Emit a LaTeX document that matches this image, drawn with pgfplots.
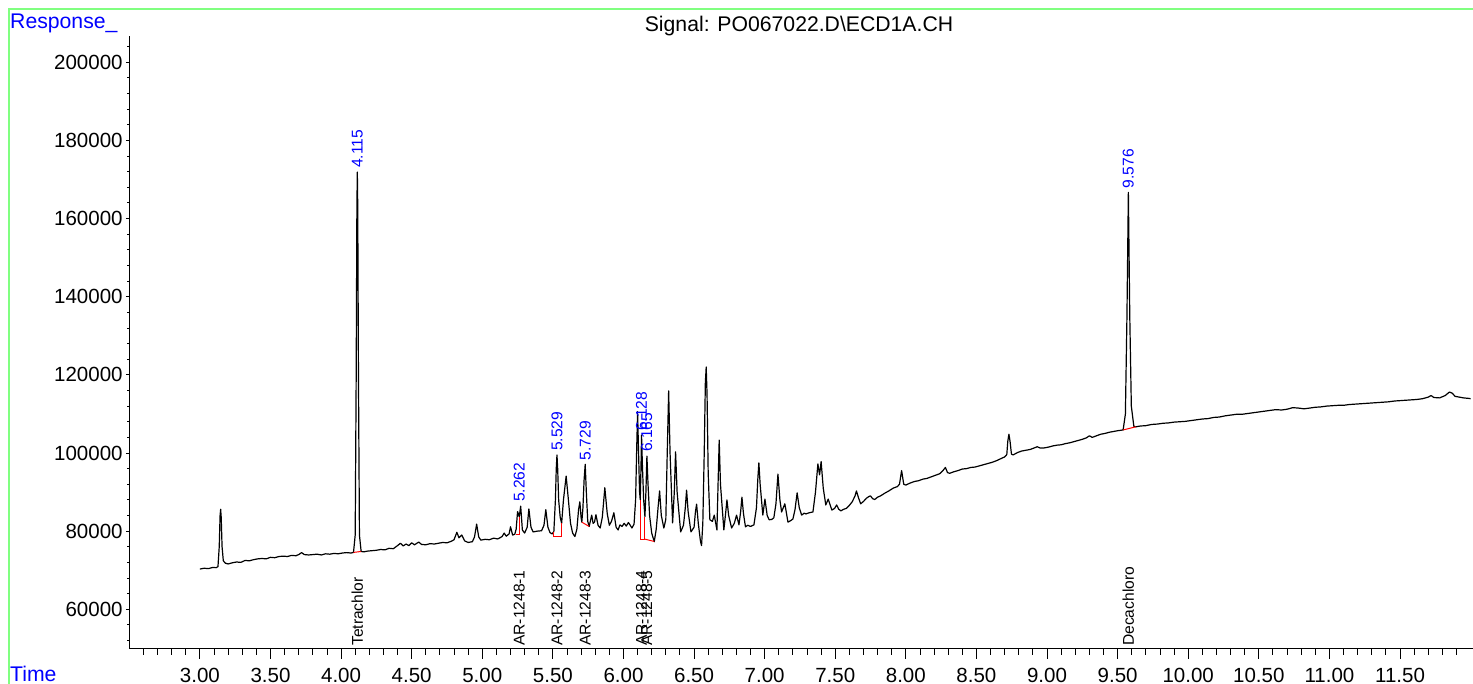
\documentclass[border=0pt]{standalone}
\usepackage{pgfplots}
\pgfplotsset{compat=1.18}
\usepackage{fontspec}
\setmainfont{Liberation Sans}
\newcommand\tickfont{\fontsize{20.5}{24}\selectfont}
\newcommand\headfont{\fontsize{21.2}{25}\selectfont}
\newcommand\annfont{\fontsize{15.6}{18}\selectfont}
\definecolor{framegreen}{RGB}{128,255,128}
\begin{document}
\begin{tikzpicture}[x=1pt,y=1pt]
\begin{axis}[
  at={(0,0)}, anchor=south west, scale only axis,
  width=1343.7pt, height=613pt,
  xmin=2.5, xmax=12.017, ymin=49833, ymax=206731,
  clip=false,
  axis x line*=bottom, axis y line=none,
  ytick=\empty, scaled y ticks=false, scaled x ticks=false,
  tick align=outside,
  xtick={3,3.5,4,4.5,5,5.5,6,6.5,7,7.5,8,8.5,9,9.5,10,10.5,11,11.5},
  xticklabels={3.00,3.50,4.00,4.50,5.00,5.50,6.00,6.50,7.00,7.50,8.00,8.50,9.00,9.50,10.00,10.50,11.00,11.50},
  minor xtick={2.6,2.7,2.8,2.9,3.1,3.2,3.3,3.4,3.6,3.7,3.8,3.9,4.1,4.2,4.3,4.4,4.6,4.7,4.8,4.9,5.1,5.2,5.3,5.4,5.6,5.7,5.8,5.9,6.1,6.2,6.3,6.4,6.6,6.7,6.8,6.9,7.1,7.2,7.3,7.4,7.6,7.7,7.8,7.9,8.1,8.2,8.3,8.4,8.6,8.7,8.8,8.9,9.1,9.2,9.3,9.4,9.6,9.7,9.8,9.9,10.1,10.2,10.3,10.4,10.6,10.7,10.8,10.9,11.1,11.2,11.3,11.4,11.6,11.7,11.8,11.9},
  major tick length=10pt, minor tick length=6pt,
  tick style={black, line width=0.9pt},
  axis line style={black, line width=1pt},
  xticklabel style={font=\tickfont, inner sep=0pt, yshift=-9pt},
]
\addplot[black, line width=1.2pt, line join=round] coordinates {
(3.000,70300) (3.030,70500) (3.060,70400) (3.090,70700) (3.115,70650) (3.128,70900) (3.137,76000) (3.143,84000) (3.147,85600) (3.151,83500) (3.157,76000) (3.166,72400) (3.180,71800) (3.200,71600) (3.230,71900) (3.260,72100) (3.290,72000) (3.320,72500) (3.350,72400) (3.380,72700) (3.410,72900) (3.440,73000) (3.470,72900) (3.500,73300) (3.530,73200) (3.560,73500) (3.590,73600) (3.620,73500) (3.650,73800) (3.680,73700) (3.700,74000) (3.720,74500) (3.740,74000) (3.770,73900) (3.800,74000) (3.830,74100) (3.860,73900) (3.890,74200) (3.920,74100) (3.950,74300) (3.980,74200) (4.010,74400) (4.040,74500) (4.070,74400) (4.088,74550) (4.100,79000) (4.107,120000) (4.112,163000) (4.115,171900) (4.118,163000) (4.123,120000) (4.130,79000) (4.142,74800) (4.160,74700) (4.190,74900) (4.220,75000) (4.250,75100) (4.280,75300) (4.310,75200) (4.340,75600) (4.370,75500) (4.400,76300) (4.420,76900) (4.440,76200) (4.460,76700) (4.480,76300) (4.500,77000) (4.520,76500) (4.550,77200) (4.570,76600) (4.600,76500) (4.630,76800) (4.660,76700) (4.690,76900) (4.720,77100) (4.750,77000) (4.780,77400) (4.800,77800) (4.820,79700) (4.835,78300) (4.855,79000) (4.875,77500) (4.900,77100) (4.930,77300) (4.945,78500) (4.960,81800) (4.975,78500) (4.990,77700) (5.020,77900) (5.050,77800) (5.080,78200) (5.110,78000) (5.140,78600) (5.155,79500) (5.170,78700) (5.190,79300) (5.200,81100) (5.215,79000) (5.230,79200) (5.240,80500) (5.250,85000) (5.262,83700) (5.272,86400) (5.284,80300) (5.300,79500) (5.318,81000) (5.330,85700) (5.345,81000) (5.360,79800) (5.390,80000) (5.420,80100) (5.437,81500) (5.450,85500) (5.465,81000) (5.480,79600) (5.495,79300) (5.507,79900) (5.518,88000) (5.524,96000) (5.529,99500) (5.534,96000) (5.541,88000) (5.552,83500) (5.562,82000) (5.575,88000) (5.594,94100) (5.610,88000) (5.625,82000) (5.640,79500) (5.656,78600) (5.670,80500) (5.682,85500) (5.691,87500) (5.700,83500) (5.705,82300) (5.713,86000) (5.721,93000) (5.729,97100) (5.737,90000) (5.747,82500) (5.757,81200) (5.765,82500) (5.775,84100) (5.785,82000) (5.795,82300) (5.805,84200) (5.820,81500) (5.835,80800) (5.850,83500) (5.868,91100) (5.885,84500) (5.900,81500) (5.915,82500) (5.932,84700) (5.948,81000) (5.962,80300) (5.975,81600) (5.990,81200) (6.005,82000) (6.020,81300) (6.035,82200) (6.048,81500) (6.060,80800) (6.075,81800) (6.086,88000) (6.093,100000) (6.100,110600) (6.107,100000) (6.114,90000) (6.119,88000) (6.124,96000) (6.128,104600) (6.134,97000) (6.143,88000) (6.152,83700) (6.159,90000) (6.166,99200) (6.174,92000) (6.185,84000) (6.200,79500) (6.218,77300) (6.232,80500) (6.245,86000) (6.256,90300) (6.268,84000) (6.286,80800) (6.300,83000) (6.310,100000) (6.320,115900) (6.330,100000) (6.348,82100) (6.360,90000) (6.369,100300) (6.380,90000) (6.405,79800) (6.425,81500) (6.438,86000) (6.447,90500) (6.458,85000) (6.478,79800) (6.500,81000) (6.510,85000) (6.518,86900) (6.530,82000) (6.545,77500) (6.553,76300) (6.562,82000) (6.572,100000) (6.580,118000) (6.586,122000) (6.592,115000) (6.600,95000) (6.612,82900) (6.630,82500) (6.643,84100) (6.662,80300) (6.670,92000) (6.678,103300) (6.687,92000) (6.711,80300) (6.722,84000) (6.733,88000) (6.745,84000) (6.766,80800) (6.785,82000) (6.801,84100) (6.818,81600) (6.830,85000) (6.839,88700) (6.850,84500) (6.864,81100) (6.880,81500) (6.900,81200) (6.924,81600) (6.942,86000) (6.951,93000) (6.959,97500) (6.968,92000) (6.987,84100) (7.002,88200) (7.018,84000) (7.032,82900) (7.050,83000) (7.065,83400) (7.080,87000) (7.094,94600) (7.108,88000) (7.120,84900) (7.143,87000) (7.165,82300) (7.185,82700) (7.200,83100) (7.215,85500) (7.230,89800) (7.245,86000) (7.262,84100) (7.280,84600) (7.292,84400) (7.315,84700) (7.342,84900) (7.360,90000) (7.377,97200) (7.389,94400) (7.400,97800) (7.415,91000) (7.433,86700) (7.450,88200) (7.476,85400) (7.495,85800) (7.510,86700) (7.525,85600) (7.540,85200) (7.560,85600) (7.580,85850) (7.600,86600) (7.620,87500) (7.640,89000) (7.650,90300) (7.665,88500) (7.680,87000) (7.700,87600) (7.720,88400) (7.740,88900) (7.750,89000) (7.765,88300) (7.780,88100) (7.800,88700) (7.820,89000) (7.850,89700) (7.880,90300) (7.910,91000) (7.940,91400) (7.955,92000) (7.970,95500) (7.985,92000) (8.000,91800) (8.030,92300) (8.060,92700) (8.090,92900) (8.120,93300) (8.150,93500) (8.180,93900) (8.210,94300) (8.240,94700) (8.265,95600) (8.280,96300) (8.295,95000) (8.310,94800) (8.340,95200) (8.370,95500) (8.400,95900) (8.430,96000) (8.460,96300) (8.490,96400) (8.520,96700) (8.550,97000) (8.580,97300) (8.610,97600) (8.640,98000) (8.670,98500) (8.700,99000) (8.715,99600) (8.722,103000) (8.730,104800) (8.738,103000) (8.748,99700) (8.760,99500) (8.790,100100) (8.820,100500) (8.850,100700) (8.880,100900) (8.910,101300) (8.930,101600) (8.950,101300) (8.980,101300) (9.010,101500) (9.040,101800) (9.070,102000) (9.100,102100) (9.130,102400) (9.160,102600) (9.190,102900) (9.220,103200) (9.250,103500) (9.280,103900) (9.300,104400) (9.320,104000) (9.350,104400) (9.380,104800) (9.410,105000) (9.440,105300) (9.470,105500) (9.500,105700) (9.520,105800) (9.539,105900) (9.555,110000) (9.566,135000) (9.576,166700) (9.586,135000) (9.597,112000) (9.615,106800) (9.629,106700) (9.660,106900) (9.700,107000) (9.740,107300) (9.780,107400) (9.820,107600) (9.860,107700) (9.900,107900) (9.940,108000) (9.980,108100) (10.020,108300) (10.060,108500) (10.100,108700) (10.140,108800) (10.180,109100) (10.220,109200) (10.260,109500) (10.300,109700) (10.340,109900) (10.380,109900) (10.420,110100) (10.460,110300) (10.500,110500) (10.540,110700) (10.580,110900) (10.620,111100) (10.660,111000) (10.700,111200) (10.740,111600) (10.780,111500) (10.820,111300) (10.860,111500) (10.900,111700) (10.940,111800) (10.980,112000) (11.020,112100) (11.060,112200) (11.100,112200) (11.140,112400) (11.180,112500) (11.220,112600) (11.260,112700) (11.300,112800) (11.340,112900) (11.380,113000) (11.420,113100) (11.460,113300) (11.500,113400) (11.540,113500) (11.580,113600) (11.620,113700) (11.660,113900) (11.700,114300) (11.720,114700) (11.740,114200) (11.780,114100) (11.820,114700) (11.850,115600) (11.870,115300) (11.890,114500) (11.920,114300) (11.950,114100) (11.980,114000) (12.000,113900)
};
% integration baselines
\addplot[red, line width=1pt] coordinates {(4.088,74550) (4.142,74800)};
\addplot[red, line width=1pt] coordinates {(5.238,79010) (5.262,79010) (5.262,83700)};
\addplot[red, line width=1pt] coordinates {(5.507,79900) (5.507,78600) (5.562,78600) (5.562,82000)};
\addplot[red, line width=1pt] coordinates {(5.705,82300) (5.757,81200)};
\addplot[red, line width=1pt] coordinates {(6.119,88000) (6.119,77950) (6.152,77950) (6.152,83700)};
\addplot[red, line width=1pt] coordinates {(6.152,77950) (6.218,77350)};
\addplot[red, line width=1pt] coordinates {(9.539,105900) (9.629,106700)};
% retention time labels
\begin{scope}[every node/.style={rotate=90, anchor=west, inner xsep=4pt, inner ysep=0pt, font=\annfont, text=blue}]
\node at (axis cs:4.115,171900) {4.115};
\node at (axis cs:5.262,86400) {5.262};
\node at (axis cs:5.529,99500) {5.529};
\node at (axis cs:5.729,97100) {5.729};
\node at (axis cs:6.128,104600) {6.128};
\node at (axis cs:6.165,99200) {6.165};
\node at (axis cs:9.576,166700) {9.576};
\end{scope}
% compound labels
\begin{scope}[every node/.style={rotate=90, anchor=west, inner xsep=3pt, inner ysep=0pt, font=\annfont, text=black}]
\node at (axis cs:4.115,49833) {Tetrachlor};
\node at (axis cs:5.262,49833) {AR-1248-1};
\node at (axis cs:5.529,49833) {AR-1248-2};
\node at (axis cs:5.729,49833) {AR-1248-3};
\node at (axis cs:6.128,49833) {AR-1248-4};
\node at (axis cs:6.165,49833) {AR-1248-5};
\node at (axis cs:9.576,49833) {Decachloro};
\end{scope}
\end{axis}
\begin{axis}[
  at={(0,0)}, anchor=south west, scale only axis,
  width=1343.7pt, height=613pt,
  xmin=2.5, xmax=12.017, ymin=49833, ymax=206731,
  axis x line=none, axis y line*=left,
  xtick=\empty, scaled y ticks=false, scaled x ticks=false,
  tick align=outside,
  ytick={60000,80000,100000,120000,140000,160000,180000,200000},
  yticklabels={60000,80000,100000,120000,140000,160000,180000,200000},
  minor ytick={52000,56000,64000,68000,72000,76000,84000,88000,92000,96000,104000,108000,112000,116000,124000,128000,132000,136000,144000,148000,152000,156000,164000,168000,172000,176000,184000,188000,192000,196000,204000},
  major tick length=3.5pt, minor tick length=2pt,
  tick style={black, line width=0.9pt},
  axis line style={black, line width=1pt},
  yticklabel style={font=\tickfont, inner sep=0pt, xshift=-3pt},
]
\end{axis}
\draw[framegreen, line width=1.3pt] (-120.3,-60) -- (-120.3,640) -- (1400,640);
\node[anchor=base west, inner sep=0pt, text=blue, font=\headfont] at (-119.3,620) {Response\_};
\node[anchor=base west, inner sep=0pt, text=blue, font=\headfont] at (-119.3,-33) {Time};
\node[anchor=base, inner sep=0pt, font=\headfont] at (669.7,617.3) {Signal: PO067022.D\textbackslash ECD1A.CH};
\pgfresetboundingbox
\path[use as bounding box] (-129.3,-35) rectangle (1343.7,649);
\end{tikzpicture}
\end{document}
